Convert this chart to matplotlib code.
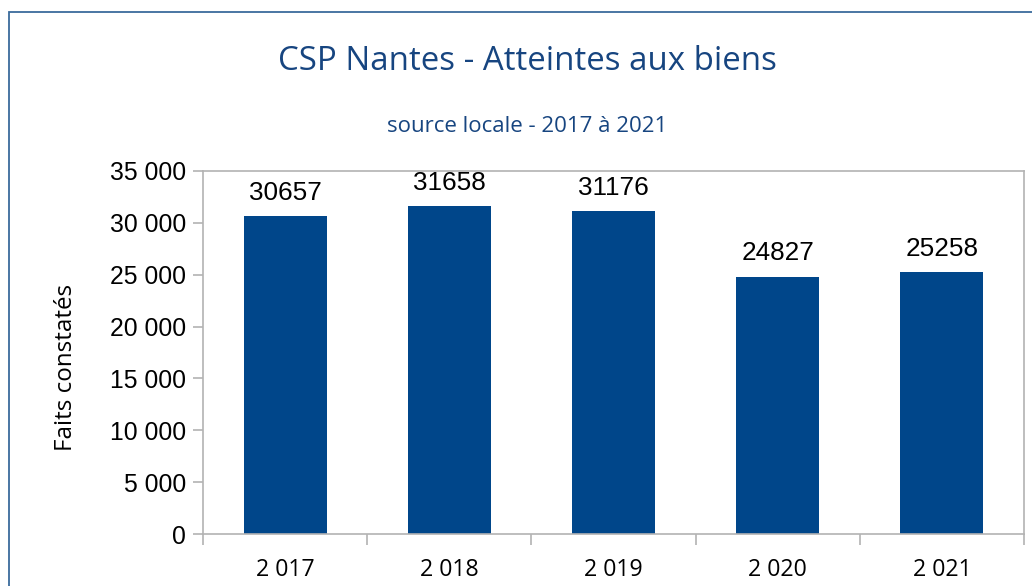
import matplotlib
matplotlib.use("Agg")
import matplotlib.pyplot as plt
from matplotlib.patches import Rectangle

years = [2017, 2018, 2019, 2020, 2021]
faits = [30657, 31658, 31176, 24827, 25258]
y_ticks = [0, 5000, 10000, 15000, 20000, 25000, 30000, 35000]

bar_color = "#00468a"
title_color = "#174580"
grey = "#b3b3b3"


def fr(v):
    return f"{int(v):,}".replace(",", " ")


fig = plt.figure(figsize=(10.32, 5.86), dpi=100)
ax = fig.add_axes([203 / 1032, 1 - 534 / 586, (1024 - 203) / 1032, (534 - 171) / 586])

# frame around the whole chart (cropped right/bottom in the original)
fig.patches.append(Rectangle((9 / 1032, -0.1), 1.2, 1 - 12 / 586 + 0.1,
                             transform=fig.transFigure, fill=False,
                             edgecolor="#3a6b9c", linewidth=1.3))

x = list(range(len(years)))
bars = ax.bar(x, faits, width=0.505, color=bar_color, zorder=2)

for b, v in zip(bars, faits):
    ax.annotate(str(v), (b.get_x() + b.get_width() / 2, v), xytext=(0, 8),
                textcoords="offset points", ha="center", va="bottom",
                fontsize=18.8, family="Liberation Sans", color="black")

ax.set_xlim(-0.5, len(years) - 0.5)
ax.set_ylim(0, 35000)
ax.set_yticks(y_ticks)
ax.set_yticklabels([fr(t) for t in y_ticks], family="Liberation Sans", fontsize=17.8)
ax.set_xticks(x)
ax.set_xticklabels([fr(y) for y in years], family="Open Sans", fontsize=16.7)
ax.set_xticks([i - 0.5 for i in range(len(years) + 1)], minor=True)
ax.tick_params(axis="x", which="major", length=0, pad=17)
ax.tick_params(axis="x", which="minor", length=8, color=grey, width=1.2)
ax.tick_params(axis="y", length=7, color=grey, width=1.2, pad=5)

for s in ax.spines.values():
    s.set_color(grey)
    s.set_linewidth(1.2)

ax.set_ylabel("Faits constatés", family="Open Sans", fontsize=17.4)
ax.yaxis.set_label_coords(-0.152, 0.46)

fig.text(527 / 1032, 1 - 62 / 586, "CSP Nantes - Atteintes aux biens",
         ha="center", va="center", color=title_color, family="Open Sans", fontsize=23.8)
fig.text(527 / 1032, 1 - 127 / 586, "source locale - 2017 à 2021",
         ha="center", va="center", color=title_color, family="Open Sans", fontsize=16)

fig.savefig("out.png", dpi=100)
